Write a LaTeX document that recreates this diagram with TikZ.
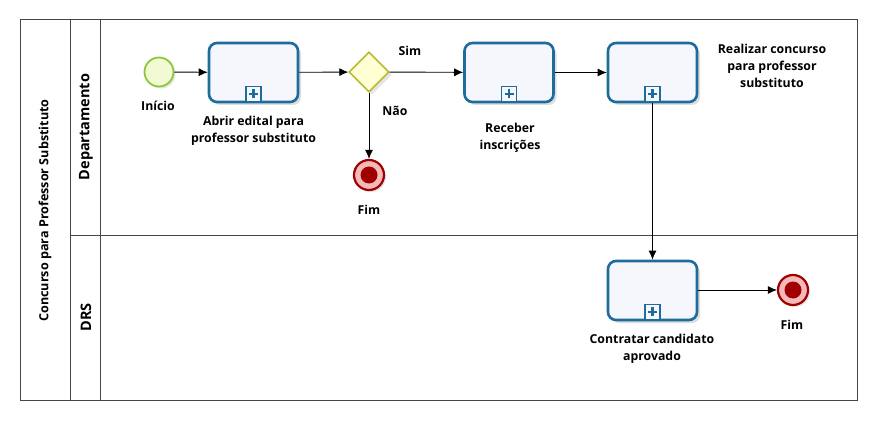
\documentclass[tikz,border=0pt]{standalone}
\usepackage{fontspec}
\setmainfont{Open Sans}
\usetikzlibrary{arrows.meta,shapes.geometric,shadows}
\definecolor{taskblue}{RGB}{30,108,155}
\definecolor{taskfill}{RGB}{245,247,253}
\definecolor{startline}{RGB}{141,198,63}
\definecolor{startfill}{RGB}{241,250,210}
\definecolor{gwline}{RGB}{185,185,50}
\definecolor{gwfill}{RGB}{255,255,212}
\definecolor{endred}{RGB}{160,0,0}
\definecolor{endpink}{RGB}{245,185,185}
\definecolor{poolline}{RGB}{70,70,70}
\tikzset{
  x=1pt,y=-1pt,
  lbl/.style={font=\fontsize{12.3}{17}\selectfont\bfseries,align=center,inner sep=0pt},
  taskbox/.style={draw=taskblue,line width=2.6pt,fill=taskfill,rounded corners=8pt,
     minimum width=89pt,minimum height=59pt,inner sep=0pt,
     drop shadow={shadow xshift=3pt,shadow yshift=-3pt,fill=black!25,opacity=0.5}},
  startev/.style={circle,draw=startline,line width=1.8pt,fill=startfill,minimum size=29pt,inner sep=0pt,
     drop shadow={shadow xshift=2pt,shadow yshift=-2pt,fill=black!20,opacity=0.5}},
  endev/.style={circle,draw=endred,line width=2.2pt,fill=endpink,minimum size=30pt,inner sep=0pt,
     drop shadow={shadow xshift=2pt,shadow yshift=-2pt,fill=black!20,opacity=0.5}},
  gateway/.style={diamond,draw=gwline,line width=1.6pt,fill=gwfill,minimum width=40pt,minimum height=40pt,inner sep=0pt,
     drop shadow={shadow xshift=3pt,shadow yshift=-3pt,fill=black!20,opacity=0.5}},
  flow/.style={draw=black,line width=0.9pt,-{Latex[length=9pt,width=8pt]}},
  pool/.style={draw=poolline,line width=1pt}
}
\newcommand{\plusmark}[1]{%
  \draw[taskblue,line width=1.5pt,fill=taskfill] ([xshift=-7.5pt,yshift=2pt]#1.south) rectangle ([xshift=7.5pt,yshift=17pt]#1.south);
  \draw[taskblue,line width=2.2pt] ([xshift=-4.5pt,yshift=9.5pt]#1.south) -- ([xshift=4.5pt,yshift=9.5pt]#1.south);
  \draw[taskblue,line width=2.2pt] ([yshift=5pt]#1.south) -- ([yshift=14pt]#1.south);
}
\newcommand{\evdot}[1]{\fill[endred] (#1) circle (8.5pt);}
\begin{document}
\begin{tikzpicture}
\useasboundingbox (0,0) rectangle (877,422);
\fill[white] (0,0) rectangle (877,422);
% pool
\draw[pool] (20,20) rectangle (857,400);
\draw[pool] (70,20) -- (70,400);
\draw[pool] (100,20) -- (100,400);
\draw[pool] (70,235) -- (857,235);
\node[lbl,rotate=90,font=\fontsize{12.6}{14}\selectfont\bfseries] (pooltitle) at (45,210.5) {Concurso para Professor Substituto};
\node[lbl,rotate=90,font=\fontsize{14.5}{16}\selectfont\bfseries] (lane1) at (86,127) {Departamento};
\node[lbl,rotate=90,font=\fontsize{14.5}{16}\selectfont\bfseries] (lane2) at (86,317.5) {DRS};
% nodes
\node[startev] (start) at (159,72) {};
\node[taskbox] (t1) at (253.5,72.5) {};
\node[gateway] (gw) at (369,72) {};
\node[taskbox] (t2) at (509,72.5) {};
\node[taskbox] (t3) at (652.5,72.5) {};
\node[taskbox] (t4) at (652.5,290.5) {};
\node[endev] (e1) at (369,175) {};
\node[endev] (e2) at (793,290) {};
\evdot{e1}
\evdot{e2}
\plusmark{t1}
\plusmark{t2}
\plusmark{t3}
\plusmark{t4}
% labels
\node[lbl] (lstart) at (158,106) {Início};
\node[lbl] (lt1) at (253.5,131) {Abrir edital para\\professor substituto};
\node[lbl] (lsim) at (410,51) {Sim};
\node[lbl] (lnao) at (395,111) {Não};
\node[lbl] (le1) at (369,210) {Fim};
\node[lbl] (lt2) at (510,138) {Receber\\inscrições};
\node[lbl] (lt3) at (772,66) {Realizar concurso\\para professor\\substituto};
\node[lbl] (lt4) at (652,349) {Contratar candidato\\aprovado};
\node[lbl] (le2) at (792,325) {Fim};
% flows
\draw[flow] (start) -- (t1);
\draw[flow] (t1) -- (gw);
\draw[flow] (gw) -- (t2);
\draw[flow] (t2) -- (t3);
\draw[flow] (gw) -- (e1);
\draw[flow] (t3) -- (t4);
\draw[flow] (t4.east |- e2) -- (e2);
\end{tikzpicture}
\end{document}
